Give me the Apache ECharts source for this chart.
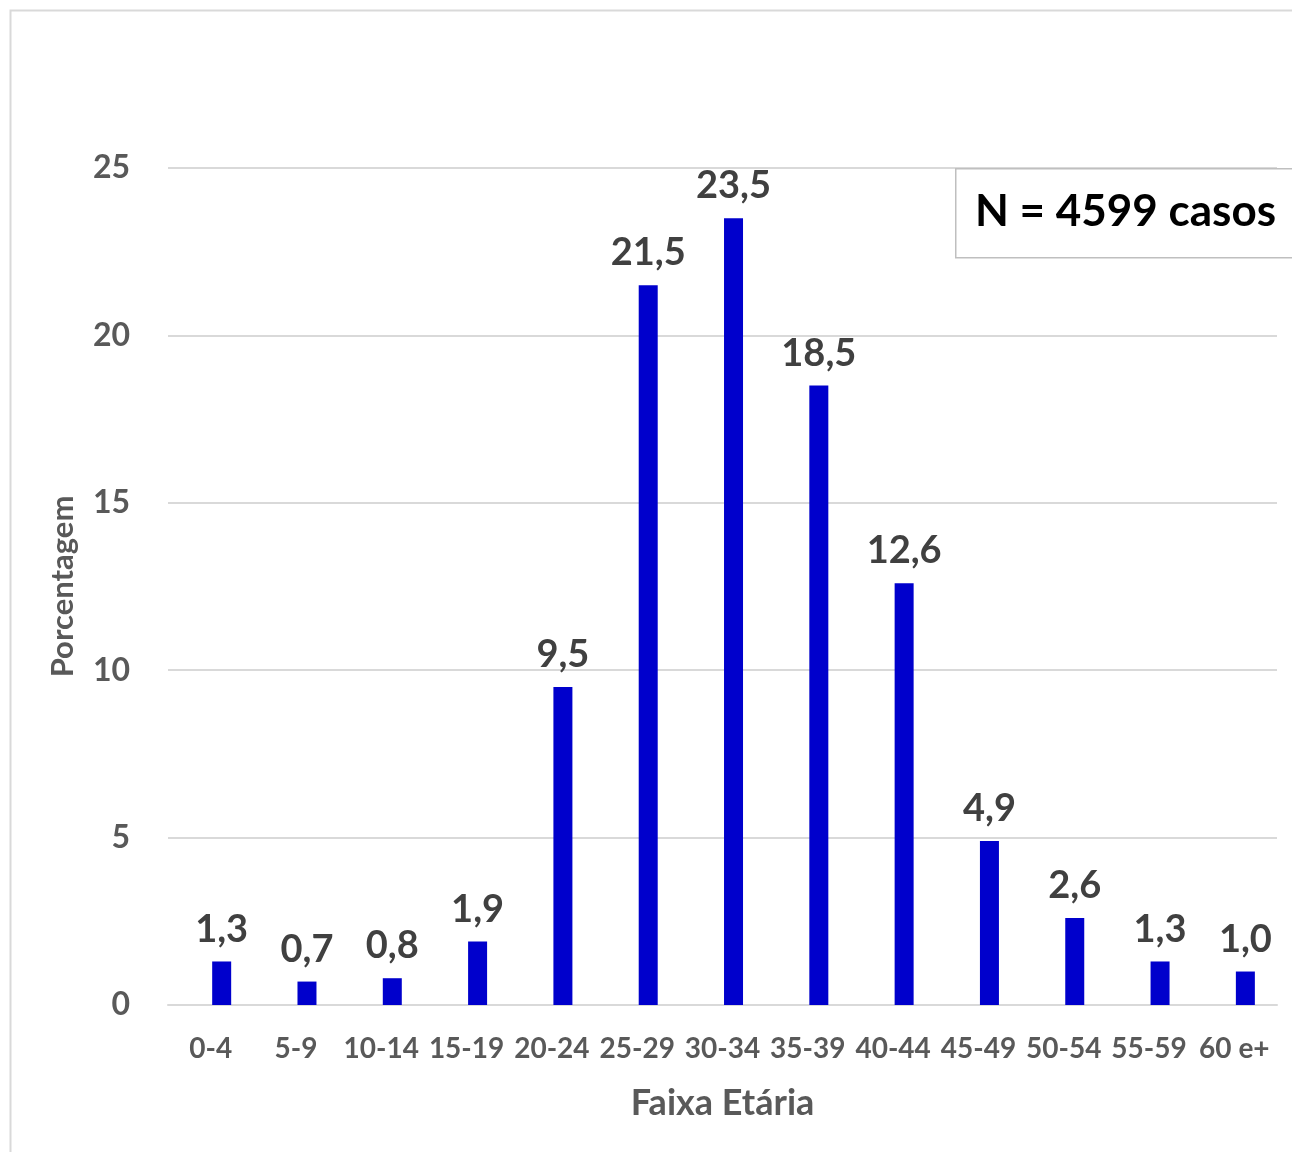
<!DOCTYPE html>
<html>
<head>
<meta charset="utf-8">
<script src="https://cdn.jsdelivr.net/npm/echarts@6/dist/echarts.min.js"></script>
<style>
html,body{margin:0;padding:0;background:#fff;}
#chart{width:1292px;height:1152px;}
</style>
</head>
<body>
<div id="chart"></div>
<script>
const categories = ['0-4','5-9','10-14','15-19','20-24','25-29','30-34','35-39','40-44','45-49','50-54','55-59','60 e+'];
const percentages = [1.3, 0.7, 0.8, 1.9, 9.5, 21.5, 23.5, 18.5, 12.6, 4.9, 2.6, 1.3, 1.0];
const emptySeries = categories.map(() => null);
const yTicks = [0, 5, 10, 15, 20, 25];
const noteText = 'N = 4599 casos';
const xTitle = 'Faixa Etária';
const yTitle = 'Porcentagem';

const FONT = 'Lato';
const chart = echarts.init(document.getElementById('chart'), null, {renderer: 'canvas'});
chart.setOption({
  backgroundColor: '#ffffff',
  animation: false,
  grid: {left: 168, right: 15, top: 168, bottom: 147, containLabel: false},
  graphic: [
    {type: 'rect', left: 8, top: 8, shape: {width: 1300, height: 1160},
     style: {fill: 'none', stroke: '#d9d9d9', lineWidth: 2}, z: -1},
    {type: 'rect', left: 955, top: 168, shape: {width: 360, height: 89},
     style: {fill: '#ffffff', stroke: '#bfbfbf', lineWidth: 1.5}, z: 10},
    {type: 'text', left: 975, top: 190,
     style: {text: noteText, font: 'bold 44px ' + FONT, fill: '#000000'}, z: 11}
  ],
  xAxis: {
    type: 'category',
    data: categories,
    axisLine: {show: true, lineStyle: {color: '#d9d9d9', width: 2}},
    axisTick: {show: false},
    axisLabel: {color: '#595959', fontFamily: FONT, fontWeight: 'bold', fontSize: 28, margin: 30, interval: 0},
    name: xTitle,
    nameLocation: 'middle',
    nameGap: 80,
    nameTextStyle: {color: '#595959', fontFamily: FONT, fontWeight: 'bold', fontSize: 36}
  },
  yAxis: {
    type: 'value',
    min: yTicks[0],
    max: yTicks[yTicks.length - 1],
    interval: 5,
    axisLine: {show: false},
    axisTick: {show: false},
    splitLine: {lineStyle: {color: '#d9d9d9', width: 2}},
    axisLabel: {color: '#595959', fontFamily: FONT, fontWeight: 'bold', fontSize: 32, margin: 38},
    name: yTitle,
    nameLocation: 'middle',
    nameGap: 90,
    nameTextStyle: {color: '#595959', fontFamily: FONT, fontWeight: 'bold', fontSize: 31}
  },
  series: [
    {type: 'bar', data: emptySeries, barWidth: 19, barGap: '16%', silent: true},
    {
      type: 'bar',
      data: percentages,
      barWidth: 19,
      barGap: '16%',
      itemStyle: {color: '#0000cc'},
      label: {
        show: true,
        position: 'top',
        distance: 13,
        color: '#404040',
        fontFamily: FONT,
        fontWeight: 'bold',
        fontSize: 38,
        formatter: p => p.value.toFixed(1).replace('.', ',')
      }
    }
  ]
});
</script>
</body>
</html>
